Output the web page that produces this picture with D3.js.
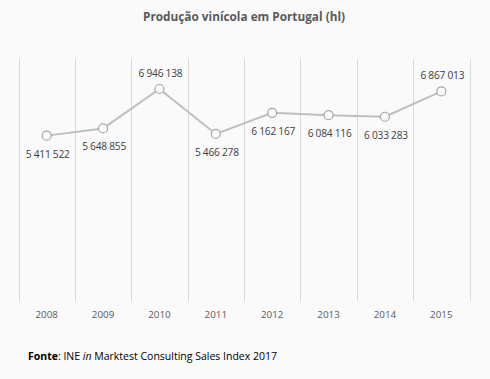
<!DOCTYPE html>
<html><head><meta charset="utf-8">
<script src="https://cdn.jsdelivr.net/npm/d3@7"></script>
<style>body{margin:0;background:#fafafa;} svg{display:block;}</style>
</head><body>
<svg id="c" width="490" height="379"></svg>
<script>
const years = ["2008","2009","2010","2011","2012","2013","2014","2015"];
const production = [5411522,5648855,6946138,5466278,6162167,6084116,6033283,6867013];
const labelPos = ["below","below","above","below","below","below","below","above"];
const yDomain = [0, 8000000];

const svg = d3.select("#c");
svg.append("rect").attr("width",490).attr("height",379).attr("fill","#fafafa");
const font = "'Open Sans', 'Liberation Sans', sans-serif";

const x = d3.scaleBand().domain(years).range([18.5, 469.5]).padding(0);
const y = d3.scaleLinear().domain(yDomain).range([300, 57]);

// vertical gridlines
const edges = years.map(d => x(d)).concat([x(years[years.length-1]) + x.bandwidth()]);
svg.append("g").selectAll("line").data(edges).join("line")
  .attr("x1", d => Math.round(d)+0.5).attr("x2", d => Math.round(d)+0.5)
  .attr("y1", 59).attr("y2", 301)
  .attr("stroke", "#d9d9d9").attr("stroke-width", 1);

// x axis labels
const xAxis = d3.axisBottom(x).tickSize(0).tickPadding(10);
const gx = svg.append("g").attr("transform","translate(0,301)").call(xAxis);
gx.select(".domain").remove();
gx.selectAll("text").attr("font-family", font).attr("font-size", 9.8).attr("fill","#595959");

// title
svg.append("text").attr("x", 244).attr("y", 21).attr("text-anchor","middle")
  .attr("font-family", font).attr("font-size", 11.8).attr("font-weight","bold").attr("fill","#595959")
  .text("Produção vinícola em Portugal (hl)");

// line
const cx = d => x(d) + x.bandwidth()/2;
const line = d3.line().x((d,i) => cx(years[i])).y(d => y(d));
svg.append("path").datum(production).attr("d", line)
  .attr("fill","none").attr("stroke","#bfbfbf").attr("stroke-width",2);

svg.append("g").selectAll("circle").data(production).join("circle")
  .attr("cx", (d,i) => cx(years[i])).attr("cy", d => y(d)).attr("r", 4.5)
  .attr("fill","#fafafa").attr("stroke","#a6a6a6").attr("stroke-width",1.2);

const fmt = v => d3.format(",")(v).replace(/,/g, " ");
svg.append("g").selectAll("text").data(production).join("text")
  .attr("x", (d,i) => cx(years[i]) + 1)
  .attr("y", (d,i) => labelPos[i] === "above" ? y(d) - 12 : y(d) + 22)
  .attr("text-anchor","middle")
  .attr("font-family", font).attr("font-size", 10.2).attr("letter-spacing", -0.25).attr("fill","#404040")
  .text(d => fmt(d));

// footer
const ft = svg.append("text").attr("x", 28).attr("y", 360)
  .attr("font-family", font).attr("font-size", 10.5).attr("fill","#000");
ft.append("tspan").attr("font-weight","bold").text("Fonte");
ft.append("tspan").text(": INE ");
ft.append("tspan").attr("font-style","italic").text("in");
ft.append("tspan").text(" Marktest Consulting Sales Index 2017");
</script>
</body></html>
